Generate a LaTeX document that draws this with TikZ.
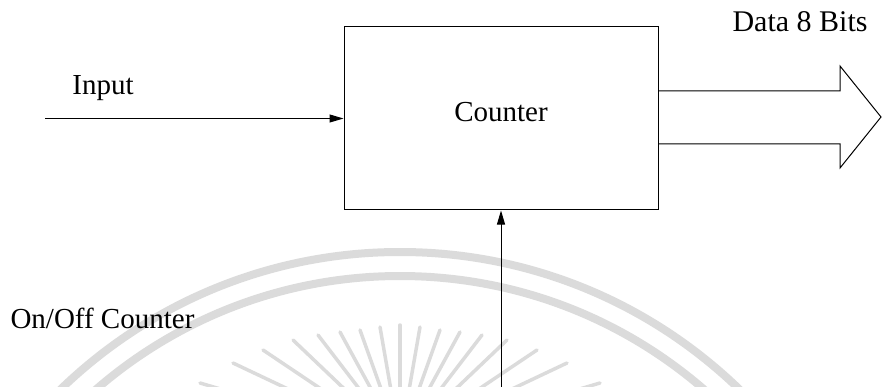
\documentclass[tikz,border=0pt]{standalone}
\usepackage{fontspec}
\setmainfont{Liberation Serif}
\usetikzlibrary{arrows.meta}
\begin{document}
\begin{tikzpicture}[x=1pt,y=-1pt,
  wm/.style={draw=gray!28, line width=8pt},
  ray/.style={draw=gray!28, line width=3.5pt, line cap=round},
  blk/.style={draw=black, line width=1pt},
  box/.style={blk, minimum width=314pt, minimum height=183pt, inner sep=0pt,
              text height=19pt, text depth=12pt, font=\fontsize{29}{32}\selectfont},
  lbl/.style={inner sep=0pt, anchor=base, font=\fontsize{29}{32}\selectfont},
  tip/.style={-{Triangle[length=14pt,width=8pt]}}
]
\useasboundingbox (0,0) rectangle (882,387);
% faint watermark
\begin{scope}
\clip (0,0) rectangle (882,387);
\draw[wm] (400,740) circle[radius=488pt];
\draw[wm] (400,740) circle[radius=464pt];
\coordinate (sun) at (400,442);
\foreach \x/\y in {400/325,420/327,440/330,460/332,482/335,507/340,537/350,567/363,600/383,
                   380/327,360/330,340/332,318/335,293/340,263/350,233/363,200/383}
  \draw[ray, shorten >=30pt] (\x,\y) -- (sun);
\end{scope}
% diagram
\node[box] (cnt) at (501,118.5) {Counter};
\coordinate (inS) at (45,118.5);
\draw[blk, tip] (inS) -- (cnt.west);
\coordinate (onS) at (501,387);
\draw[blk, tip] (onS) -- (cnt.south);
\coordinate (a1) at (840,91);
\coordinate (a2) at (840,66);
\coordinate (a3) at (881,117);
\coordinate (a4) at (840,168);
\coordinate (a5) at (840,144);
\draw[blk, line join=miter] (cnt.east |- a1) -- (a1) -- (a2) -- (a3) -- (a4) -- (a5) -- (cnt.east |- a5);
\node[lbl] (inLbl) at (103,95) {Input};
\node[lbl, font=\fontsize{30}{33}\selectfont] (dataLbl) at (800,32) {Data 8 Bits};
\node[lbl] (onLbl) at (102.5,328.5) {On/Off Counter};
\end{tikzpicture}
\end{document}
